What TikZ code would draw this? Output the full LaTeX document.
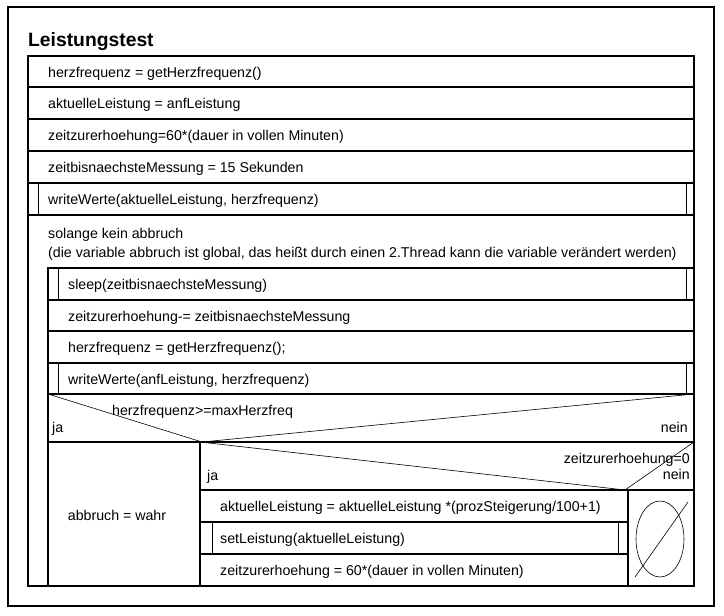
\documentclass[tikz,border=0pt]{standalone}
\usepackage{fontspec}
\setmainfont{Liberation Sans}

\begin{document}
\begin{tikzpicture}[
        x=1pt, y=-1pt,
        inner sep=0pt,
        frame/.style={line width=2pt},
        bar/.style={line width=0.8pt},
        diag/.style={line width=0.6pt},
        txt/.style={anchor=base west, font=\fontsize{14.2}{17}\selectfont},
        rtxt/.style={anchor=base east, font=\fontsize{14.2}{17}\selectfont}
      ]
      \useasboundingbox (0,0) rectangle (724,616);
      \draw[frame] (8,7) rectangle (714,606);
      \node (title) [anchor=base west, font=\bfseries\fontsize{19.3}{23}\selectfont] at (28,46) {Leistungstest};
      \draw[frame] (28,56) rectangle (694,586);
      \draw[frame] (28,87) -- (694,87)
      (28,119) -- (694,119)
      (28,151) -- (694,151)
      (28,183) -- (694,183)
      (28,215) -- (694,215);
      \draw[bar] (38,183) -- (38,215) (686,183) -- (686,215);
      \node (hf) [txt] at (48,77) {herzfrequenz = getHerzfrequenz()};
      \node (al) [txt] at (48,108) {aktuelleLeistung = anfLeistung};
      \node (ze) [txt] at (48,140) {zeitzurerhoehung=60*(dauer in vollen Minuten)};
      \node (zm) [txt] at (48,172) {zeitbisnaechsteMessung = 15 Sekunden};
      \node (ww) [txt] at (48,204) {writeWerte(aktuelleLeistung, herzfrequenz)};
      \node (loop) [txt] at (48,238) {solange kein abbruch};
      \node (loopnote) [txt] at (48,257) {(die variable abbruch ist global, das heißt durch einen 2.Thread kann die variable verändert werden)};
      \draw[frame] (48,268) rectangle (694,586);
      \draw[frame] (48,300) -- (694,300)
      (48,331) -- (694,331)
      (48,363) -- (694,363)
      (48,394) -- (694,394);
      \draw[bar] (58,268) -- (58,300) (686,268) -- (686,300)
      (58,363) -- (58,394) (686,363) -- (686,394);
      \node (sl) [txt] at (68,289) {sleep(zeitbisnaechsteMessung)};
      \node (zd) [txt] at (68,321) {zeitzurerhoehung-= zeitbisnaechsteMessung};
      \node (hf2) [txt] at (68,352) {herzfrequenz = getHerzfrequenz();};
      \node (ww2) [txt] at (68,384) {writeWerte(anfLeistung, herzfrequenz)};
      \draw[diag] (48,394) -- (202,442) -- (694,394);
      \node (cond) [txt] at (112,415) {herzfrequenz>=maxHerzfreq};
      \node (ja) [txt] at (52,432) {ja};
      \node (nein) [rtxt] at (688,432) {nein};
      \draw[frame] (48,442) -- (694,442)
      (200,442) -- (200,586);
      \node (ab) [font=\fontsize{14.2}{17}\selectfont] at (117,515) {abbruch = wahr};
      \draw[diag] (200,442) -- (625,490) -- (694,442);
      \node (cond2) [rtxt] at (690,463) {zeitzurerhoehung=0};
      \node (ja2) [txt] at (207,480) {ja};
      \node (nein2) [rtxt] at (690,479) {nein};
      \draw[frame] (200,490) -- (694,490)
      (628,490) -- (628,586)
      (200,522) -- (628,522)
      (200,554) -- (628,554);
      \draw[bar] (212,522) -- (212,554) (618,522) -- (618,554);
      \node (al2) [txt] at (220,511) {aktuelleLeistung = aktuelleLeistung *(prozSteigerung/100+1)};
      \node (sp) [txt] at (220,543) {setLeistung(aktuelleLeistung)};
      \node (ze2) [txt] at (220,575) {zeitzurerhoehung = 60*(dauer in vollen Minuten)};
      \draw[diag] (660,539) ellipse [x radius=24pt, y radius=38pt];
      \draw[diag] (635,577) -- (688,502);
    \end{tikzpicture}
\end{document}
